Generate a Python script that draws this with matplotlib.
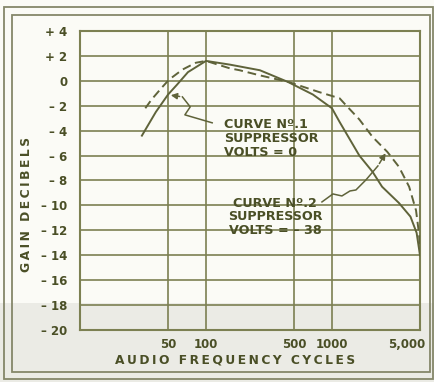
import numpy as np
import matplotlib.pyplot as plt
import matplotlib.transforms as mtransforms
from matplotlib.patches import Rectangle

# curve no.1 - suppressor volts = 0 (solid)
freq1 = [31, 40, 50, 59, 72, 100, 155, 268, 450, 706, 1000, 1150, 1650, 2100, 2500, 3400, 4200, 4700, 5000]
gain1 = [-4.4, -2.5, -1.1, -0.3, 0.7, 1.6, 1.3, 0.85, -0.1, -1.1, -2.2, -3.3, -6.0, -7.3, -8.5, -9.8, -10.9, -12.2, -14.0]

# curve no.2 - suppressor volts = -38 (dashed)
freq2 = [33, 37, 45, 51, 65, 83, 100, 155, 185, 265, 455, 790, 1150, 1250, 1650, 2100, 2750, 3400, 4100, 4650, 4900, 5000]
gain2 = [-2.2, -1.5, -0.5, 0.1, 0.9, 1.45, 1.6, 1.0, 0.85, 0.45, -0.1, -0.9, -1.4, -1.8, -3.1, -4.5, -5.7, -6.9, -8.5, -10.4, -12.2, -13.3]

yticks = list(range(4, -21, -2))
ylabels = ['+ 4', '+ 2', '0'] + ['\u2013 %d' % abs(v) for v in yticks[3:]]
xticks = [50, 100, 500, 1000, 5000]
xlabels = ['50', '100', '500', '1000', '5,000']

# squiggly pointers from the notes to the curves
note1_f = [112, 68, 75, 65, 50]
note1_g = [-3.37, -2.73, -2.09, -1.29, -1.12]
note2_f = [833, 1018, 1200, 1390, 1550, 1862, 2317, 2735]
note2_g = [-9.72, -9.08, -9.24, -8.84, -8.76, -7.95, -6.83, -5.62]

ink = '#4a4f26'
grid_c = '#7c8052'
line_c = '#5f633a'


def spaced(s):
    # hand lettering is widely spaced
    return '\u2009'.join(s).replace('\u2009 \u2009', '\u2009\u2009 ')


fig = plt.figure(figsize=(4.35, 3.82), dpi=100)
fig.patch.set_facecolor('#fbfbf6')
# greyish scan band at the bottom
fig.patches.append(Rectangle((0, 0), 1, 1 - 303 / 382, transform=fig.transFigure,
                             facecolor='#ebebe5', edgecolor='none', zorder=-10))
# double frame
fig.patches.append(Rectangle((4 / 435, 1 - 379 / 382), 429 / 435, 372 / 382, transform=fig.transFigure,
                             facecolor='none', edgecolor='#85876a', lw=1.3, zorder=-5))
fig.patches.append(Rectangle((12 / 435, 1 - 372 / 382), 418 / 435, 357 / 382, transform=fig.transFigure,
                             facecolor='none', edgecolor='#85876a', lw=1.3, zorder=-5))

ax = fig.add_axes([80 / 435, 1 - 330 / 382, 340 / 435, 299 / 382])
ax.set_facecolor('none')
ax.set_xscale('log')
ax.set_xlim(10, 5000)
ax.set_ylim(-20, 4)

for y in yticks:
    ax.axhline(y, color=grid_c, lw=1.2, zorder=1)
for x in [50, 100, 500, 1000]:
    ax.axvline(x, color=grid_c, lw=1.2, zorder=1)
for s in ax.spines.values():
    s.set_color(grid_c)
    s.set_linewidth(1.5)

ax.plot(freq1, gain1, color=line_c, lw=1.4, zorder=3)
ax.plot(freq2, gain2, color=line_c, lw=1.4, dashes=(4.5, 2.5), zorder=3)

ax.set_yticks(yticks)
ax.set_yticklabels(ylabels, fontsize=8.5, fontweight='bold', color=ink)
ax.set_xticks(xticks)
ax.set_xticklabels(xlabels, fontsize=8.5, fontweight='bold', color=ink)
ax.xaxis.set_minor_locator(plt.NullLocator())
ax.tick_params(length=0, pad=6)
ax.tick_params(axis='y', pad=9)
last = ax.get_xticklabels()[-1]
last.set_ha('right')
last.set_transform(last.get_transform() + mtransforms.ScaledTranslation(5 / 100, 0, fig.dpi_scale_trans))

ax.set_xlabel(spaced('AUDIO FREQUENCY CYCLES'), fontsize=8.8, fontweight='bold', color=ink)
ax.xaxis.set_label_coords(0.455, -0.077)
ax.set_ylabel(spaced('GAIN DECIBELS'), fontsize=8.8, fontweight='bold', color=ink)
ax.yaxis.set_label_coords(-0.138, 0.42)

ax.plot(note1_f[:-1], note1_g[:-1], color=line_c, lw=1.1, zorder=3)
ax.annotate('', xy=(note1_f[-1], note1_g[-1]), xytext=(note1_f[-2], note1_g[-2]),
            arrowprops=dict(arrowstyle='-|>', color=line_c, lw=1.1, mutation_scale=9), zorder=4)
ax.plot(note2_f[:-1], note2_g[:-1], color=line_c, lw=1.1, zorder=3)
ax.annotate('', xy=(note2_f[-1], note2_g[-1]), xytext=(note2_f[-2], note2_g[-2]),
            arrowprops=dict(arrowstyle='-|>', color=line_c, lw=1.1, mutation_scale=9), zorder=4)

ax.text(140, -2.95, 'CURVE N\u00ba.1\nSUPPRESSOR\nVOLTS = 0', ha='left', va='top', fontsize=9.2,
        fontweight='bold', color=ink, linespacing=1.1, zorder=5)
ax.text(353, -9.3, 'CURVE N\u00ba.2\nSUPPRESSOR\nVOLTS = \u2013 38', ha='center', va='top', fontsize=9.2,
        fontweight='bold', color=ink, linespacing=1.05, zorder=5)

fig.savefig('out.png', dpi=100, facecolor=fig.get_facecolor())
